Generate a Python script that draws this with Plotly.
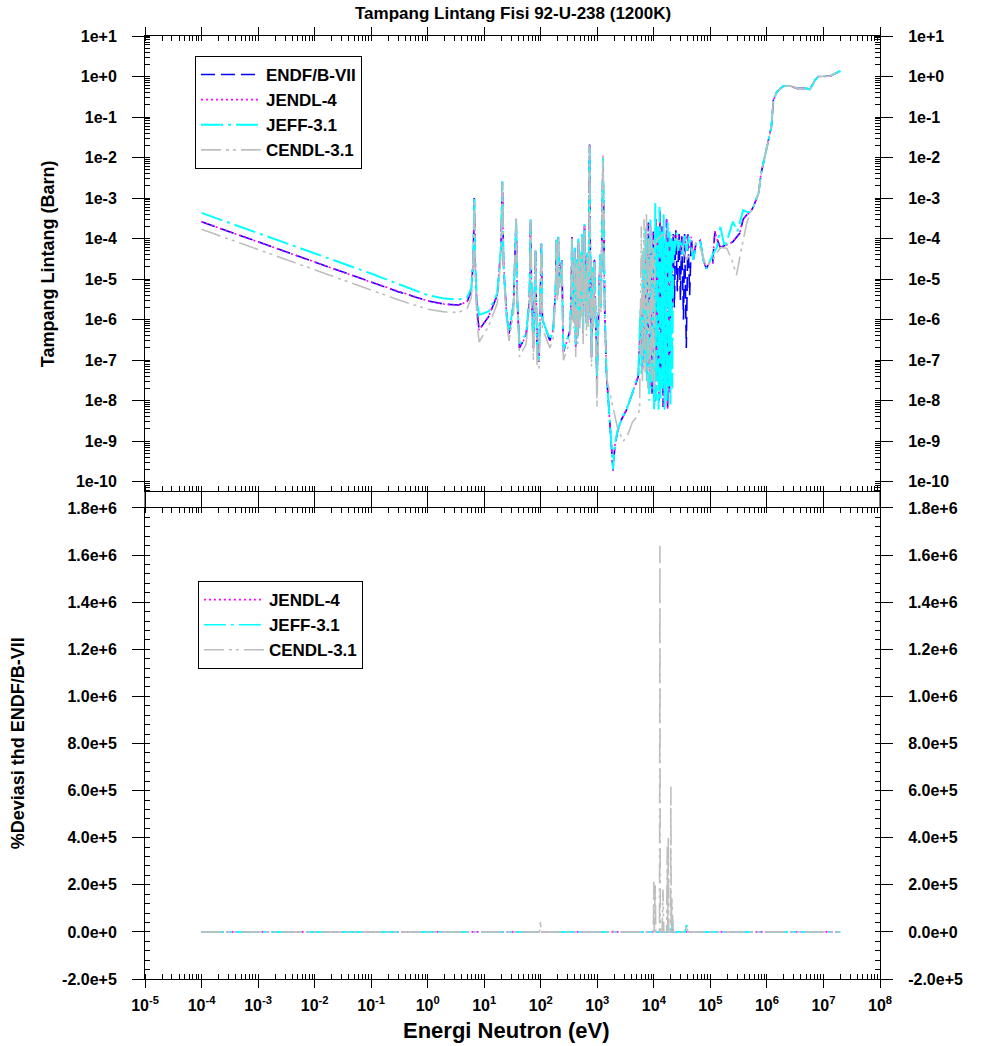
import plotly.graph_objects as go

# ---------------- DATA ----------------
# Energies in eV, cross sections in barn
E_endf = [1e-4, 3e-4, 1e-3, 3e-3, 1e-2, 3e-2, 1e-1, 3e-1, 1.0, 2.0, 3.5, 5.0, 5.9, 6.4, 6.67, 6.9, 7.4, 8.1,
          12, 17, 19.8, 20.9, 22, 25, 27.5, 33, 36.7, 38.5, 42, 55, 63, 66, 69, 74, 80.7, 86, 93, 102.5, 107,
          145, 166, 183, 190, 197, 204, 215, 236, 244, 251, 300, 331, 348, 355, 366, 380, 398, 406, 415, 434,
          450, 463, 472, 478, 492, 518, 527, 535, 548, 562, 580, 587, 594, 608, 625, 645, 661, 680, 700, 716,
          730, 745, 760, 790, 820, 850, 890, 935, 985, 1060, 1120, 1160, 1215, 1260, 1300, 1350, 1450, 1700,
          1900, 2050, 2300, 2700, 3300, 4000, 4700, 5300, 6000, 6300, 6600, 6900, 7300, 7600, 8000, 8400, 8900,
          9300, 9800, 10300, 10800, 11200, 11800, 12300, 12800, 13300, 14000, 14600, 15300, 16000, 16800,
          17500, 18200, 18900, 19800, 20800, 22000, 23000, 24500, 26000, 28000, 29500, 31000, 33500, 35000,
          37500, 40000, 43000, 46000, 50000, 56000, 66000, 75000, 85000, 95000, 110000, 120000, 130000,
          150000, 195000, 250000, 330000, 380000, 450000, 500000, 580000, 710000, 790000, 980000, 1.2e6,
          1.3e6, 1.5e6, 1.95e6, 2.6e6, 3.4e6, 5.0e6, 5.75e6, 7.1e6, 8.1e6, 1.3e7, 2.0e7]
sig_endf = [2.6e-4, 1.5e-4, 8.3e-5, 4.8e-5, 2.6e-5, 1.5e-5, 8.4e-6, 4.9e-6, 2.9e-6, 2.4e-6, 2.3e-6, 2.8e-6,
            5.0e-6, 3.0e-5, 1.0e-3, 3.0e-5, 2.0e-6, 5.5e-7,
            1.2e-6, 4.0e-6, 6.0e-5, 2.5e-3, 2.0e-5, 1.2e-6, 4.5e-7, 2.5e-6, 3.2e-4, 3.0e-6, 2.0e-7, 4.0e-7,
            3.0e-6, 2.9e-4, 3.0e-6, 2.0e-7, 5.0e-5, 1.5e-7, 9.0e-8, 7.5e-5, 1.0e-6,
            3.0e-7, 5.5e-7, 6.0e-6, 9.0e-5, 4.0e-6, 1.1e-4, 8.0e-6, 3.0e-5, 1.0e-6, 1.6e-7, 3.5e-7, 5.5e-7,
            6.0e-6, 1.1e-4, 3.0e-6, 1.0e-6, 6.0e-5, 8.0e-7, 2.0e-7, 3.0e-5,
            4.0e-7, 9.0e-5, 3.0e-6, 5.0e-5, 1.0e-6, 4.0e-5, 2.0e-6, 1.2e-4, 2.0e-6, 4.6e-7, 5.0e-5, 3.0e-6,
            2.1e-4, 3.0e-6, 1.3e-5, 8.0e-7, 4.0e-5, 3.0e-6, 1.0e-6, 3.0e-4,
            2.1e-2, 2.0e-4, 1.0e-5, 1.2e-7, 2.0e-5, 1.0e-6, 3.0e-5, 1.5e-6, 3.0e-8, 2.0e-6, 4.0e-5, 2.0e-6,
            3.0e-4, 1.1e-2, 3.0e-4, 2.0e-6, 5.0e-8, 2.0e-9,
            1.9e-10, 8.0e-10, 1.8e-9, 3.5e-9, 6.0e-9, 1.3e-8, 2.6e-8, 3.9e-8, 3.0e-6, 6.0e-8, 2.0e-5, 1.0e-7,
            1.2e-4, 4.0e-8, 2.5e-4, 2.0e-8, 6.0e-5,
            1.5e-8, 1.5e-4, 8.0e-9, 3.0e-4, 3.0e-8, 1.0e-4, 1.0e-8, 5.0e-4, 5.0e-8, 2.0e-4, 7.0e-9, 8.0e-5,
            2.0e-8, 3.0e-4,
            6.0e-9, 1.2e-4, 1.6e-8, 1.0e-4, 5.0e-7, 1.5e-4, 2.0e-6, 1.6e-4, 5.0e-6, 1.3e-4, 3.0e-6, 1.2e-4,
            1.0e-6, 1.3e-4,
            2.0e-7, 1.4e-4, 4.0e-6, 1.0e-4, 3.0e-5, 8.0e-5, 9.0e-5, 3.0e-5, 1.8e-5, 2.5e-5, 2.5e-5, 1.5e-4,
            1.0e-4,
            6.0e-5, 7.0e-5, 8.3e-5, 1.35e-4, 3.0e-4, 4.0e-4, 4.3e-4, 6.2e-4, 1.3e-3, 4.1e-3, 1.55e-2, 5.8e-2,
            0.26, 0.42, 0.58, 0.58, 0.51, 0.51, 0.48, 0.81, 1.0, 1.02, 1.38]

E_jendl = [1e-4, 1e-3, 1e-2, 1e-1, 1.0, 2.0, 3.5, 5.0, 5.9, 6.4, 6.67, 6.9, 7.4, 8.1,
           12, 17, 19.8, 20.9, 22, 25, 27.5, 33, 36.7, 38.5, 42, 55, 63, 66, 69, 74, 80.7, 86, 93, 102.5, 107,
           145, 166, 183, 190, 197, 204, 215, 236, 244, 251, 300, 331, 348, 355, 366, 380, 398, 406, 415, 434,
           450, 463, 472, 478, 492, 518, 527, 535, 548, 562, 580, 587, 594, 608, 625, 645, 661, 680, 700, 716,
           730, 745, 760, 790, 820, 850, 890, 935, 985, 1060, 1120, 1160, 1215, 1260, 1300, 1350, 1450, 1700,
           1900, 2050, 2300, 2700, 3300, 4000, 4700, 5300, 6000, 6300, 6600, 6900, 7300, 7600, 8000, 8400, 8900,
           9300, 9800, 10300, 10800, 11200, 11800, 12300, 12800, 13300, 14000, 14600, 15300, 16000, 16800,
           17500, 18200, 18900, 19800, 20800, 21500, 23000, 25000, 27000, 29500, 32000, 35000, 38000, 42000,
           46000, 50000, 56000, 66000, 75000, 85000, 95000, 110000, 120000, 130000,
           150000, 195000, 250000, 330000, 380000, 450000, 500000, 580000, 710000, 790000, 980000, 1.2e6,
           1.3e6, 1.5e6, 1.95e6, 2.6e6, 3.4e6, 5.0e6, 5.75e6, 7.1e6, 8.1e6, 1.3e7, 2.0e7]
sig_jendl = [2.6e-4, 8.3e-5, 2.6e-5, 8.4e-6, 2.9e-6, 2.4e-6, 2.3e-6, 2.8e-6, 5.0e-6, 3.0e-5, 1.0e-3,
             3.0e-5, 2.0e-6, 5.5e-7,
             1.2e-6, 4.0e-6, 6.0e-5, 2.5e-3, 2.0e-5, 1.2e-6, 4.5e-7, 2.5e-6, 3.2e-4, 3.0e-6, 2.0e-7, 4.0e-7,
             3.0e-6, 2.9e-4, 3.0e-6, 2.0e-7, 5.0e-5, 1.5e-7, 9.0e-8, 7.5e-5, 1.0e-6,
             3.0e-7, 5.5e-7, 6.0e-6, 9.0e-5, 4.0e-6, 1.1e-4, 8.0e-6, 3.0e-5, 1.0e-6, 1.6e-7, 3.5e-7, 5.5e-7,
             6.0e-6, 1.1e-4, 3.0e-6, 1.0e-6, 6.0e-5, 8.0e-7, 2.0e-7, 3.0e-5,
             4.0e-7, 9.0e-5, 3.0e-6, 5.0e-5, 1.0e-6, 4.0e-5, 2.0e-6, 1.2e-4, 2.0e-6, 4.6e-7, 5.0e-5, 3.0e-6,
             2.1e-4, 3.0e-6, 1.3e-5, 8.0e-7, 4.0e-5, 3.0e-6, 1.0e-6, 3.0e-4,
             2.1e-2, 2.0e-4, 1.0e-5, 1.2e-7, 2.0e-5, 1.0e-6, 3.0e-5, 1.5e-6, 3.0e-8, 2.0e-6, 4.0e-5, 2.0e-6,
             3.0e-4, 1.1e-2, 3.0e-4, 2.0e-6, 5.0e-8, 2.0e-9,
             1.9e-10, 8.0e-10, 1.8e-9, 3.5e-9, 6.0e-9, 1.3e-8, 2.6e-8, 3.9e-8, 3.0e-6, 6.0e-8, 2.0e-5, 1.0e-7,
             1.2e-4, 4.0e-8, 2.5e-4, 2.0e-8, 6.0e-5,
             1.5e-8, 1.5e-4, 8.0e-9, 3.0e-4, 3.0e-8, 1.0e-4, 1.0e-8, 5.0e-4, 5.0e-8, 2.0e-4, 7.0e-9, 8.0e-5,
             2.0e-8, 3.0e-4,
             6.0e-9, 1.2e-4, 1.6e-8, 1.0e-4, 5.0e-7, 6.0e-5, 1.3e-4, 6.0e-5, 1.2e-4, 5.0e-5, 1.1e-4, 6.0e-5,
             1.2e-4, 6.0e-5,
             1.1e-4, 3.0e-5, 8.0e-5, 9.0e-5, 3.0e-5, 1.8e-5, 2.5e-5, 2.5e-5, 1.5e-4, 1.0e-4,
             6.0e-5, 7.0e-5, 8.3e-5, 1.35e-4, 3.0e-4, 4.0e-4, 4.3e-4, 6.2e-4, 1.3e-3, 4.1e-3, 1.55e-2, 5.8e-2,
             0.26, 0.42, 0.58, 0.58, 0.51, 0.51, 0.48, 0.81, 1.0, 1.02, 1.38]

E_jeff = [1e-4, 3e-4, 1e-3, 3e-3, 1e-2, 3e-2, 1e-1, 3e-1, 1.0, 2.0, 3.5, 5.0, 5.9, 6.4, 6.67, 6.9, 7.4, 8.1,
          12, 17, 19.8, 20.9, 22, 25, 27.5, 33, 36.7, 38.5, 42, 55, 63, 66, 69, 74, 80.7, 86, 93, 102.5, 107,
          145, 166, 183, 190, 197, 204, 215, 236, 244, 251, 300, 331, 348, 355, 366, 380, 398, 406, 415, 434,
          450, 463, 472, 478, 492, 518, 527, 535, 548, 562, 580, 587, 594, 608, 625, 645, 661, 680, 700, 716,
          730, 745, 760, 790, 820, 850, 890, 935, 985, 1060, 1120, 1160, 1215, 1260, 1300, 1350, 1450, 1700,
          1900, 2050, 2300, 2700, 3300, 4000, 4700, 5300, 5800, 6100, 6500, 6800, 7100, 7500, 7900, 8300, 8700,
          9100, 9600, 10100, 10600, 11000, 11600, 12100, 12600, 13100, 13700, 14300, 14900, 15500, 16200,
          16900, 17600, 18300, 19000, 19700, 20400, 21200, 22000, 23000, 25000, 27000, 29500, 32000, 35000,
          38000, 42000, 46000, 50000, 56000, 66000, 75000, 85000, 95000, 110000, 130000, 150000, 180000,
          250000, 300000, 380000, 450000, 500000, 580000, 710000, 790000, 980000, 1.2e6,
          1.3e6, 1.5e6, 1.95e6, 2.6e6, 3.4e6, 5.0e6, 5.75e6, 7.1e6, 8.1e6, 1.3e7, 2.0e7]
sig_jeff = [4.3e-4, 2.5e-4, 1.37e-4, 7.9e-5, 4.3e-5, 2.5e-5, 1.37e-5, 7.6e-6, 4.0e-6, 3.3e-6, 3.1e-6, 3.6e-6,
            6.0e-6, 3.5e-5, 1.05e-3, 3.5e-5, 3.0e-6, 1.3e-6,
            1.6e-6, 4.5e-6, 6.5e-5, 2.6e-3, 2.0e-5, 1.2e-6, 5.0e-7, 2.5e-6, 3.3e-4, 3.0e-6, 2.5e-7, 4.5e-7,
            3.0e-6, 3.0e-4, 3.0e-6, 2.5e-7, 5.0e-5, 1.5e-7, 1.0e-7, 8.0e-5, 1.0e-6,
            3.2e-7, 5.5e-7, 6.0e-6, 9.5e-5, 4.0e-6, 1.15e-4, 8.0e-6, 3.0e-5, 1.0e-6, 1.8e-7, 3.5e-7, 5.5e-7,
            6.0e-6, 1.1e-4, 3.0e-6, 1.0e-6, 6.0e-5, 8.0e-7, 2.2e-7, 3.0e-5,
            4.0e-7, 1.0e-4, 3.0e-6, 5.0e-5, 1.0e-6, 4.5e-5, 2.0e-6, 1.3e-4, 2.0e-6, 5.0e-7, 5.0e-5, 3.0e-6,
            2.3e-4, 3.0e-6, 1.3e-5, 8.0e-7, 4.5e-5, 3.0e-6, 1.0e-6, 3.0e-4,
            1.8e-2, 2.0e-4, 1.0e-5, 1.3e-7, 2.0e-5, 1.0e-6, 3.0e-5, 1.5e-6, 4.0e-8, 2.0e-6, 4.0e-5, 2.0e-6,
            3.0e-4, 1.0e-2, 3.0e-4, 2.0e-6, 5.0e-8, 2.5e-9,
            2.0e-10, 9.0e-10, 1.9e-9, 3.6e-9, 6.2e-9, 1.3e-8, 2.7e-8, 4.0e-8, 2.0e-6, 4.0e-8, 5.0e-5, 8.0e-8,
            2.0e-4, 3.0e-8, 1.0e-4, 1.0e-8, 3.0e-4,
            2.0e-8, 7.0e-5, 6.0e-9, 7.5e-4, 1.0e-8, 2.0e-4, 6.0e-9, 6.0e-4, 1.0e-8, 1.5e-4, 2.0e-8, 4.0e-4,
            6.0e-9, 1.0e-4,
            1.0e-8, 2.5e-4, 2.0e-8, 1.5e-4, 8.0e-9, 1.0e-4, 2.0e-8, 1.0e-4, 4.0e-5, 1.4e-4, 5.0e-5, 1.0e-4,
            4.0e-5, 1.3e-4,
            5.0e-5, 1.2e-4, 6.0e-5, 3.0e-5, 8.0e-5, 9.0e-5, 3.0e-5, 1.8e-5, 2.5e-5, 4.0e-5, 6.0e-5, 1.95e-4,
            6.0e-5,
            2.6e-4, 1.5e-4, 5.0e-4, 4.5e-4, 4.5e-4, 6.4e-4, 1.3e-3, 4.1e-3, 1.55e-2, 5.8e-2,
            0.26, 0.42, 0.58, 0.58, 0.51, 0.51, 0.48, 0.81, 1.0, 1.02, 1.38]

E_cendl = [1e-4, 3e-4, 1e-3, 3e-3, 1e-2, 3e-2, 1e-1, 3e-1, 1.0, 2.0, 3.5, 5.0, 5.9, 6.4, 6.67, 6.9, 7.4, 8.1,
           12, 17, 19.8, 20.9, 22, 25, 27.5, 33, 36.7, 38.5, 42, 55, 63, 66, 69, 74, 80.7, 86, 93, 102.5, 107,
           145, 166, 183, 190, 197, 204, 215, 236, 244, 251, 300, 331, 348, 355, 366, 380, 398, 406, 415, 434,
           450, 463, 472, 478, 492, 518, 527, 535, 548, 562, 580, 587, 594, 608, 625, 645, 661, 680, 700, 716,
           730, 745, 760, 790, 820, 850, 890, 935, 985, 1060, 1120, 1160, 1215, 1260, 1300, 1350, 1500, 1900,
           2300, 2900, 3500, 4200, 5000, 5600, 6000, 6300, 6700, 7000, 7400, 7800, 8200, 8600, 9000, 9400,
           9800, 10200, 10500, 11200, 13800, 18200, 25000, 31000, 38000, 46000, 56000, 66000, 75000, 85000,
           95000, 110000, 150000, 195000, 240000, 290000, 350000, 440000, 500000, 580000, 710000, 790000,
           980000, 1.2e6, 1.3e6, 1.5e6, 1.95e6, 2.6e6, 3.4e6, 5.0e6, 5.75e6, 7.1e6, 8.1e6, 1.3e7, 2.0e7]
sig_cendl = [1.7e-4, 9.8e-5, 5.4e-5, 3.1e-5, 1.7e-5, 9.8e-6, 5.4e-6, 3.1e-6, 1.8e-6, 1.55e-6, 1.5e-6, 1.9e-6,
             3.5e-6, 2.5e-5, 9.0e-4, 2.0e-5, 1.0e-6, 2.8e-7,
             7.0e-7, 2.5e-6, 4.0e-5, 2.4e-3, 1.5e-5, 8.0e-7, 3.0e-7, 1.5e-6, 3.0e-4, 2.0e-6, 1.2e-7, 2.5e-7,
             2.0e-6, 2.8e-4, 2.0e-6, 1.0e-7, 5.7e-5, 8.0e-8, 6.0e-8, 7.6e-5, 6.0e-7,
             2.0e-7, 3.5e-7, 4.0e-6, 8.0e-5, 3.0e-6, 1.0e-4, 6.0e-6, 2.5e-5, 6.0e-7, 1.0e-7, 2.0e-7, 3.5e-7,
             4.0e-6, 1.0e-4, 2.0e-6, 6.0e-7, 5.0e-5, 5.0e-7, 1.2e-7, 2.5e-5,
             2.5e-7, 8.0e-5, 2.0e-6, 4.5e-5, 6.0e-7, 3.5e-5, 1.2e-6, 1.1e-4, 1.2e-6, 2.5e-7, 4.5e-5, 2.0e-6,
             2.0e-4, 2.0e-6, 1.0e-5, 4.0e-7, 3.5e-5, 2.0e-6, 6.0e-7, 2.5e-4,
             2.0e-2, 1.5e-4, 6.0e-6, 7.0e-8, 1.5e-5, 6.0e-7, 2.5e-5, 8.0e-7, 7.0e-9, 1.0e-6, 3.0e-5, 1.5e-6,
             2.5e-4, 1.1e-2, 2.0e-4, 1.0e-6, 3.0e-8, 7.0e-9,
             2.0e-9, 1.0e-9, 1.5e-9, 3.0e-9, 4.0e-9, 6.0e-9, 2.0e-4, 3.0e-8, 3.0e-4, 5.0e-8, 4.0e-4, 2.0e-8,
             1.0e-4, 4.0e-8, 2.0e-4, 3.0e-8,
             1.0e-4, 2.0e-8, 6.0e-5, 9.0e-5, 1.23e-4, 1.35e-4, 1.0e-4, 7.0e-5, 3.0e-5, 5.0e-5, 8.0e-5, 6.0e-5,
             3.5e-5, 2.0e-5,
             2.5e-5, 3.0e-5, 6.0e-5, 5.8e-5, 3.0e-5, 1.25e-5, 5.2e-5, 2.4e-4, 4.2e-4, 6.2e-4, 1.3e-3, 4.1e-3,
             1.55e-2, 5.8e-2, 0.26, 0.42, 0.58, 0.58, 0.51, 0.51, 0.48, 0.81, 1.0, 1.02, 1.38]

# Percent deviation relative to ENDF/B-VII
E_dev_jendl = [1e-4, 1e3, 2.1e4, 2.15e4, 2.2e4, 1e6, 2.0e7]
dev_jendl = [0, 0, 0, 1.5e4, 0, 0, 0]

E_dev_jeff = [1e-4, 1e3, 2.05e4, 2.12e4, 2.15e4, 2.2e4, 3.6e4, 3.75e4, 3.85e4, 4.0e4, 1e6, 2.0e7]
dev_jeff = [0, 0, 0, 3.0e4, 4.4e4, 0, 0, 2.9e4, 2.5e4, 0, 0, 0]

E_dev_cendl = [1e-4, 95, 99, 101, 1850, 1900, 1950, 9.8e3, 1.0e4, 1.02e4, 1.04e4, 1.06e4, 1.08e4, 1.1e4,
               1.26e4, 1.28e4, 1.3e4, 1.4e4, 1.45e4, 1.5e4, 1.68e4, 1.73e4, 1.76e4, 1.8e4, 1.83e4, 1.97e4,
               2.0e4, 2.03e4, 2.08e4, 2.2e4, 3.6e4, 3.75e4, 3.85e4, 4.0e4, 1e6, 2.0e7]
dev_cendl = [0, 0, 4.6e4, 0, 0, 3.6e3, 0, 0, 2.13e5, 0, 1.2e5, 2.0e5, 0, 0,
             0, 1.64e6, 0, 0, 1.8e5, 0, 0, 3.62e5, 0, 4.04e5, 0, 0,
             6.17e5, 0, 1.5e5, 0, 0, 2.9e4, 2.0e4, 0, 0, 0]

# Tick labels
x_tickvals = [1e-5, 1e-4, 1e-3, 1e-2, 1e-1, 1e0, 1e1, 1e2, 1e3, 1e4, 1e5, 1e6, 1e7, 1e8]
x_ticktext = ["10<sup>-5</sup>", "10<sup>-4</sup>", "10<sup>-3</sup>", "10<sup>-2</sup>", "10<sup>-1</sup>",
              "10<sup>0</sup>", "10<sup>1</sup>", "10<sup>2</sup>", "10<sup>3</sup>", "10<sup>4</sup>",
              "10<sup>5</sup>", "10<sup>6</sup>", "10<sup>7</sup>", "10<sup>8</sup>"]
y1_tickvals = [1e1, 1e0, 1e-1, 1e-2, 1e-3, 1e-4, 1e-5, 1e-6, 1e-7, 1e-8, 1e-9, 1e-10]
y1_ticktext = ["1e+1", "1e+0", "1e-1", "1e-2", "1e-3", "1e-4", "1e-5", "1e-6", "1e-7", "1e-8", "1e-9", "1e-10"]
y2_tickvals = [1.8e6, 1.6e6, 1.4e6, 1.2e6, 1.0e6, 8e5, 6e5, 4e5, 2e5, 0, -2e5]
y2_ticktext = ["1.8e+6", "1.6e+6", "1.4e+6", "1.2e+6", "1.0e+6", "8.0e+5", "6.0e+5", "4.0e+5", "2.0e+5",
               "0.0e+0", "-2.0e+5"]

# ---------------- FIGURE ----------------
FONT = "Liberation Sans, Arial, sans-serif"
c_endf, c_jendl, c_jeff, c_cendl = "#0000FF", "#FF00FF", "#00FFFF", "#BEBEBE"
d_endf = "14px,6px"
d_jendl = "2px,3px"
d_jeff = "22px,5px,3px,5px"
d_cendl = "20px,5px,3px,4px,3px,5px"

fig = go.Figure()
fig.add_trace(go.Scatter(x=E_endf, y=sig_endf, mode="lines", name="ENDF/B-VII",
                         line=dict(color=c_endf, width=1.6, dash=d_endf), xaxis="x", yaxis="y", legend="legend"))
fig.add_trace(go.Scatter(x=E_jendl, y=sig_jendl, mode="lines", name="JENDL-4",
                         line=dict(color=c_jendl, width=1.6, dash=d_jendl), xaxis="x", yaxis="y", legend="legend"))
fig.add_trace(go.Scatter(x=E_jeff, y=sig_jeff, mode="lines", name="JEFF-3.1",
                         line=dict(color=c_jeff, width=2, dash=d_jeff), xaxis="x", yaxis="y", legend="legend"))
fig.add_trace(go.Scatter(x=E_cendl, y=sig_cendl, mode="lines", name="CENDL-3.1",
                         line=dict(color=c_cendl, width=1.6, dash=d_cendl), xaxis="x", yaxis="y", legend="legend"))

fig.add_trace(go.Scatter(x=E_dev_jendl, y=dev_jendl, mode="lines", name="JENDL-4",
                         line=dict(color=c_jendl, width=1.6, dash=d_jendl), xaxis="x2", yaxis="y2", legend="legend2"))
fig.add_trace(go.Scatter(x=E_dev_jeff, y=dev_jeff, mode="lines", name="JEFF-3.1",
                         line=dict(color=c_jeff, width=1.6, dash=d_jeff), xaxis="x2", yaxis="y2", legend="legend2"))
fig.add_trace(go.Scatter(x=E_dev_cendl, y=dev_cendl, mode="lines", name="CENDL-3.1",
                         line=dict(color=c_cendl, width=1.6, dash=d_cendl), xaxis="x2", yaxis="y2", legend="legend2"))

# empty helper traces so the right-hand label axes are rendered
fig.add_trace(go.Scatter(x=[None], y=[None], mode="lines", showlegend=False, hoverinfo="skip",
                         xaxis="x", yaxis="y3"))
fig.add_trace(go.Scatter(x=[None], y=[None], mode="lines", showlegend=False, hoverinfo="skip",
                         xaxis="x2", yaxis="y4"))

tickfont = dict(family=FONT, size=16, color="black", weight="bold")
base = dict(showline=True, linecolor="black", linewidth=1, ticks="outside", tickcolor="black", tickwidth=1,
            showgrid=False, zeroline=False, tickfont=tickfont)
minor_log = dict(ticks="inside", ticklen=5, tickcolor="black", tickwidth=1, dtick="D1", showgrid=False)
minor_lin = dict(ticks="inside", ticklen=5, tickcolor="black", tickwidth=1, dtick=40000, tick0=0, showgrid=False)

top_dom = [0.5175, 1.0]
bot_dom = [0.0, 0.4995]

fig.update_layout(
    width=982, height=1046,
    margin=dict(l=145, r=102, t=36, b=67),
    paper_bgcolor="white", plot_bgcolor="white",
    font=dict(family=FONT, color="black"),
    showlegend=True,
    xaxis=dict(**base, domain=[0, 1], anchor="y", type="log", range=[-5, 8], tickmode="array",
               tickvals=x_tickvals, showticklabels=False, ticklen=8, minor=minor_log, mirror="ticks"),
    xaxis2=dict(**base, domain=[0, 1], anchor="y2", type="log", range=[-5, 8], tickmode="array",
                tickvals=x_tickvals, ticktext=x_ticktext, ticklen=8, minor=minor_log, mirror="ticks",
                ticklabelstandoff=4),
    yaxis=dict(**base, domain=top_dom, anchor="x", type="log", range=[-10.23, 1], tickmode="array",
               tickvals=y1_tickvals, ticktext=y1_ticktext, ticklen=12, minor=minor_log, mirror="ticks",
               ticklabelstandoff=12),
    yaxis3=dict(**base, overlaying="y", side="right", anchor="x", type="log", range=[-10.23, 1],
                tickmode="array", tickvals=y1_tickvals, ticktext=y1_ticktext, ticklen=12,
                ticklabelstandoff=12, minor=minor_log),
    yaxis2=dict(**base, domain=bot_dom, anchor="x2", range=[-2e5, 1.8e6], tickmode="array",
                tickvals=y2_tickvals, ticktext=y2_ticktext, ticklen=12, minor=minor_lin, mirror="ticks",
                ticklabelstandoff=12),
    yaxis4=dict(**base, overlaying="y2", side="right", anchor="x2", range=[-2e5, 1.8e6], tickmode="array",
                tickvals=y2_tickvals, ticktext=y2_ticktext, ticklen=12, ticklabelstandoff=12, minor=minor_lin),
    legend=dict(x=0.068, y=0.9788, xanchor="left", yanchor="top", bgcolor="white", bordercolor="black",
                borderwidth=1, font=dict(family=FONT, size=17, color="black", weight="bold"), itemwidth=60,
                tracegroupgap=0),
    legend2=dict(x=0.072, y=0.422, xanchor="left", yanchor="top", bgcolor="white", bordercolor="black",
                 borderwidth=1, font=dict(family=FONT, size=17, color="black", weight="bold"), itemwidth=60,
                 tracegroupgap=0),
    shapes=[
        dict(type="line", xref="paper", yref="paper", x0=0, x1=0, y0=bot_dom[1], y1=top_dom[0],
             line=dict(color="black", width=1)),
        dict(type="line", xref="paper", yref="paper", x0=1, x1=1, y0=bot_dom[1], y1=top_dom[0],
             line=dict(color="black", width=1)),
    ],
    annotations=[
        dict(text="Tampang Lintang Fisi 92-U-238 (1200K)", xref="paper", yref="paper", x=0.5, y=1.0,
             yshift=23, xanchor="center", yanchor="middle", showarrow=False,
             font=dict(family=FONT, size=17, color="black", weight="bold")),
        dict(text="Energi Neutron (eV)", xref="paper", yref="paper", x=0.4925, y=-0.0551,
             xanchor="center", yanchor="middle", showarrow=False,
             font=dict(family=FONT, size=22, color="black", weight="bold")),
        dict(text="Tampang Lintang (Barn)", xref="paper", yref="paper", x=-0.132, y=0.759,
             xanchor="center", yanchor="middle", textangle=-90, showarrow=False,
             font=dict(family=FONT, size=18, color="black", weight="bold")),
        dict(text="%Deviasi thd ENDF/B-VII", xref="paper", yref="paper", x=-0.1728, y=0.25,
             xanchor="center", yanchor="middle", textangle=-90, showarrow=False,
             font=dict(family=FONT, size=18, color="black", weight="bold")),
    ],
)

fig.write_html("out.html")
